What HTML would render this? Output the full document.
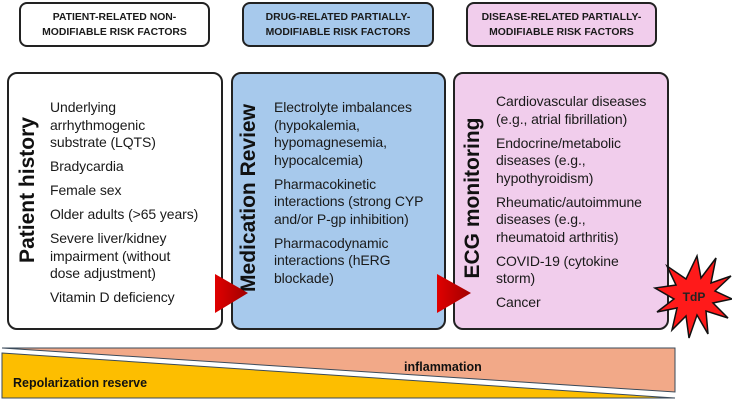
<!DOCTYPE html>
<html><head><meta charset="utf-8"><style>
body{margin:0;width:732px;height:401px;background:#fff;position:relative;overflow:hidden;font-family:"Liberation Sans",sans-serif;color:#1a1a1a}
.h{position:absolute;top:2px;height:41px;border:2px solid #222;border-radius:8px;font-weight:bold;font-size:10.4px;text-align:center;display:flex;align-items:center;justify-content:center;line-height:15px}
.b{position:absolute;top:72px;height:254px;border:2px solid #222;border-radius:10px}
.t{position:absolute;font-size:14px;line-height:17.5px;letter-spacing:-0.1px}
.t p{margin:0 0 6.5px 0}
.v{position:absolute;font-weight:bold;font-size:21px;white-space:nowrap;transform:translate(-50%,-50%) rotate(-90deg);color:#111}
</style></head><body>
<div class="h" style="left:19px;width:187px;background:#fff">PATIENT-RELATED NON-<br>MODIFIABLE RISK FACTORS</div>
<div class="h" style="left:242px;width:188px;background:#a7c9ec">DRUG-RELATED PARTIALLY-<br>MODIFIABLE RISK FACTORS</div>
<div class="h" style="left:466px;width:187px;background:#f1cdec">DISEASE-RELATED PARTIALLY-<br>MODIFIABLE RISK FACTORS</div>

<div class="b" style="left:7px;width:212px;background:#fff"></div>
<div class="b" style="left:231px;width:211px;background:#a7c9ec"></div>
<div class="b" style="left:453px;width:212px;background:#f1cdec"></div>

<div class="v" style="left:28px;top:190px">Patient history</div>
<div class="v" style="left:249px;top:198px">Medication Review</div>
<div class="v" style="left:473px;top:198px">ECG monitoring</div>

<div class="t" style="left:50px;top:99px"><p>Underlying<br>arrhythmogenic<br>substrate (LQTS)</p><p>Bradycardia</p><p>Female sex</p><p>Older adults (&gt;65 years)</p><p>Severe liver/kidney<br>impairment (without<br>dose adjustment)</p><p>Vitamin D deficiency</p></div>
<div class="t" style="left:274px;top:99px"><p>Electrolyte imbalances<br>(hypokalemia,<br>hypomagnesemia,<br>hypocalcemia)</p><p>Pharmacokinetic<br>interactions (strong CYP<br>and/or P-gp inhibition)</p><p>Pharmacodynamic<br>interactions (hERG<br>blockade)</p></div>
<div class="t" style="left:496px;top:93px"><p>Cardiovascular diseases<br>(e.g., atrial fibrillation)</p><p>Endocrine/metabolic<br>diseases (e.g.,<br>hypothyroidism)</p><p>Rheumatic/autoimmune<br>diseases (e.g.,<br>rheumatoid arthritis)</p><p>COVID-19 (cytokine<br>storm)</p><p>Cancer</p></div>

<svg width="732" height="401" style="position:absolute;left:0;top:0">
<defs><linearGradient id="g" x1="0" x2="1"><stop offset="0" stop-color="#e00000"/><stop offset="1" stop-color="#a00000"/></linearGradient></defs>
<polygon points="215,274 248,293 215,313" fill="url(#g)"/>
<polygon points="437,274 471,293 437,313" fill="url(#g)"/>
<polygon fill="#ff1a1a" stroke="#111" stroke-width="1.5" points="697,256 701,278 716,258 711,283 731,276 715,291 732,299 713,303 728,318 706,311 708,334 697,315 689,338 686,316 672,330 677,308 657,312 674,299 655,288 676,285 667,266 686,279"/>
<text x="694" y="301" font-family="Liberation Sans" font-weight="bold" font-size="12" text-anchor="middle" fill="#222">TdP</text>
<polygon points="2,348 675,348 675,392" fill="#f2a988" stroke="#3a4a5a" stroke-width="1"/>
<polygon points="2,353 675,398 2,398" fill="#fdbe00" stroke="#3a4a5a" stroke-width="1"/>
<text x="404" y="371" font-family="Liberation Sans" font-weight="bold" font-size="12.5" fill="#111">inflammation</text>
<text x="13" y="387" font-family="Liberation Sans" font-weight="bold" font-size="12.5" fill="#111">Repolarization reserve</text>
</svg>
</body></html>
